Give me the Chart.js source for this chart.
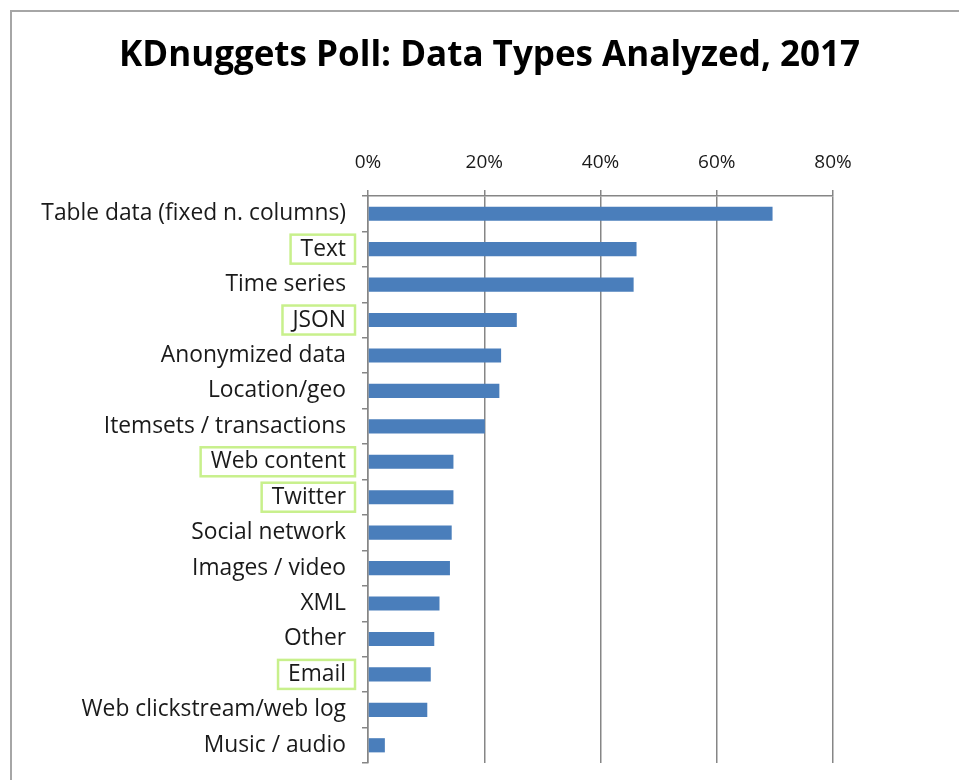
<!DOCTYPE html>
<html>
<head>
<meta charset="utf-8">
<script src="https://cdn.jsdelivr.net/npm/chart.js@4/dist/chart.umd.min.js"></script>
<style>
  html, body { margin: 0; padding: 0; background: #ffffff; }
  #wrap { position: relative; width: 959px; height: 780px; overflow: hidden; }
  canvas { display: block; }
</style>
</head>
<body>
<div id="wrap"><canvas id="c" width="959" height="780"></canvas></div>
<script>
const categories = [
  "Table data (fixed n. columns)",
  "Text",
  "Time series",
  "JSON",
  "Anonymized data",
  "Location/geo",
  "Itemsets / transactions",
  "Web content",
  "Twitter",
  "Social network",
  "Images / video",
  "XML",
  "Other",
  "Email",
  "Web clickstream/web log",
  "Music / audio"
];
const shares = [69.6, 46.2, 45.7, 25.6, 22.9, 22.6, 20.1, 14.7, 14.7, 14.4, 14.1, 12.3, 11.4, 10.8, 10.2, 2.9];
const xTicks = [0, 20, 40, 60, 80];
const highlighted = ["Text", "JSON", "Web content", "Twitter", "Email"];
const titleText = "KDnuggets Poll: Data Types Analyzed, 2017";

const LABEL_FONT = { family: "'Open Sans', 'DejaVu Sans', sans-serif", size: 22.8 };
const Y_TICK_LEN = 6;
const Y_LABEL_PAD = 16;
const TITLE_SIZE = 35;
const TITLE_PAD_TOP = 35;
const TITLE_PAD_BOTTOM = 10;

const framePlugin = {
  id: 'frame',
  beforeDraw(chart) {
    const ctx = chart.ctx;
    ctx.save();
    ctx.fillStyle = '#ffffff';
    ctx.fillRect(0, 0, chart.width, chart.height);
    ctx.strokeStyle = '#a6a6a6';
    ctx.lineWidth = 2;
    ctx.strokeRect(11, 11, 2000, 2000);
    ctx.restore();
  }
};

const highlightPlugin = {
  id: 'highlight',
  afterDraw(chart) {
    const ctx = chart.ctx;
    const y = chart.scales.y;
    ctx.save();
    ctx.font = LABEL_FONT.size + "px " + LABEL_FONT.family;
    ctx.strokeStyle = '#c8f08c';
    ctx.lineWidth = 2.5;
    const labelRight = y.right - Y_TICK_LEN - Y_LABEL_PAD;
    categories.forEach((c, i) => {
      if (!highlighted.includes(c)) return;
      const cy = y.getPixelForTick(i);
      const w = ctx.measureText(c).width;
      const left = labelRight - w - 10;
      const right = labelRight + 9;
      ctx.strokeRect(left, cy - 14.5, right - left, 29);
    });
    ctx.restore();
  }
};

new Chart(document.getElementById('c'), {
  type: 'bar',
  data: {
    labels: categories,
    datasets: [{
      data: shares,
      backgroundColor: '#4a7ebb',
      borderWidth: 0,
      barPercentage: 0.4,
      categoryPercentage: 1.0
    }]
  },
  options: {
    indexAxis: 'y',
    responsive: false,
    animation: false,
    layout: { padding: { left: 20, right: 0, top: 0, bottom: 17 } },
    plugins: {
      legend: { display: false },
      tooltip: { enabled: false },
      title: {
        display: true,
        text: titleText,
        color: '#000000',
        font: { family: "'Open Sans', sans-serif", size: TITLE_SIZE, weight: 'bold', lineHeight: 1.2 },
        padding: { top: TITLE_PAD_TOP, bottom: TITLE_PAD_BOTTOM }
      }
    },
    scales: {
      x: {
        position: 'top',
        min: 0,
        max: 80,
        afterBuildTicks(scale) { scale.ticks = xTicks.map(v => ({ value: v })); },
        afterFit(scale) { scale.height = 196 - TITLE_PAD_TOP - TITLE_SIZE * 1.2 - TITLE_PAD_BOTTOM; },
        ticks: {
          callback: v => v + '%',
          color: '#1a1a1a',
          font: { family: "'Open Sans', sans-serif", size: 19 },
          padding: 16
        },
        grid: { color: '#868686', lineWidth: 1.5, drawTicks: true, tickLength: 6, tickColor: '#868686' },
        border: { color: '#868686', width: 1.5 }
      },
      y: {
        afterFit(scale) {
          scale.width = 348;
          scale.paddingTop = 0;
          scale.paddingBottom = 0;
        },
        ticks: {
          color: '#1a1a1a',
          font: LABEL_FONT,
          padding: Y_LABEL_PAD,
          autoSkip: false
        },
        grid: { offset: true, drawOnChartArea: false, drawTicks: true, tickLength: Y_TICK_LEN, color: '#868686', lineWidth: 1.5 },
        border: { color: '#868686', width: 1.5 }
      },
      yr: {
        type: 'linear',
        position: 'right',
        display: true,
        afterFit(scale) {
          scale.width = 126;
          scale.paddingTop = 0;
          scale.paddingBottom = 0;
        },
        ticks: { display: false },
        grid: { display: false },
        border: { display: false }
      }
    }
  },
  plugins: [framePlugin, highlightPlugin]
});
</script>
</body>
</html>
